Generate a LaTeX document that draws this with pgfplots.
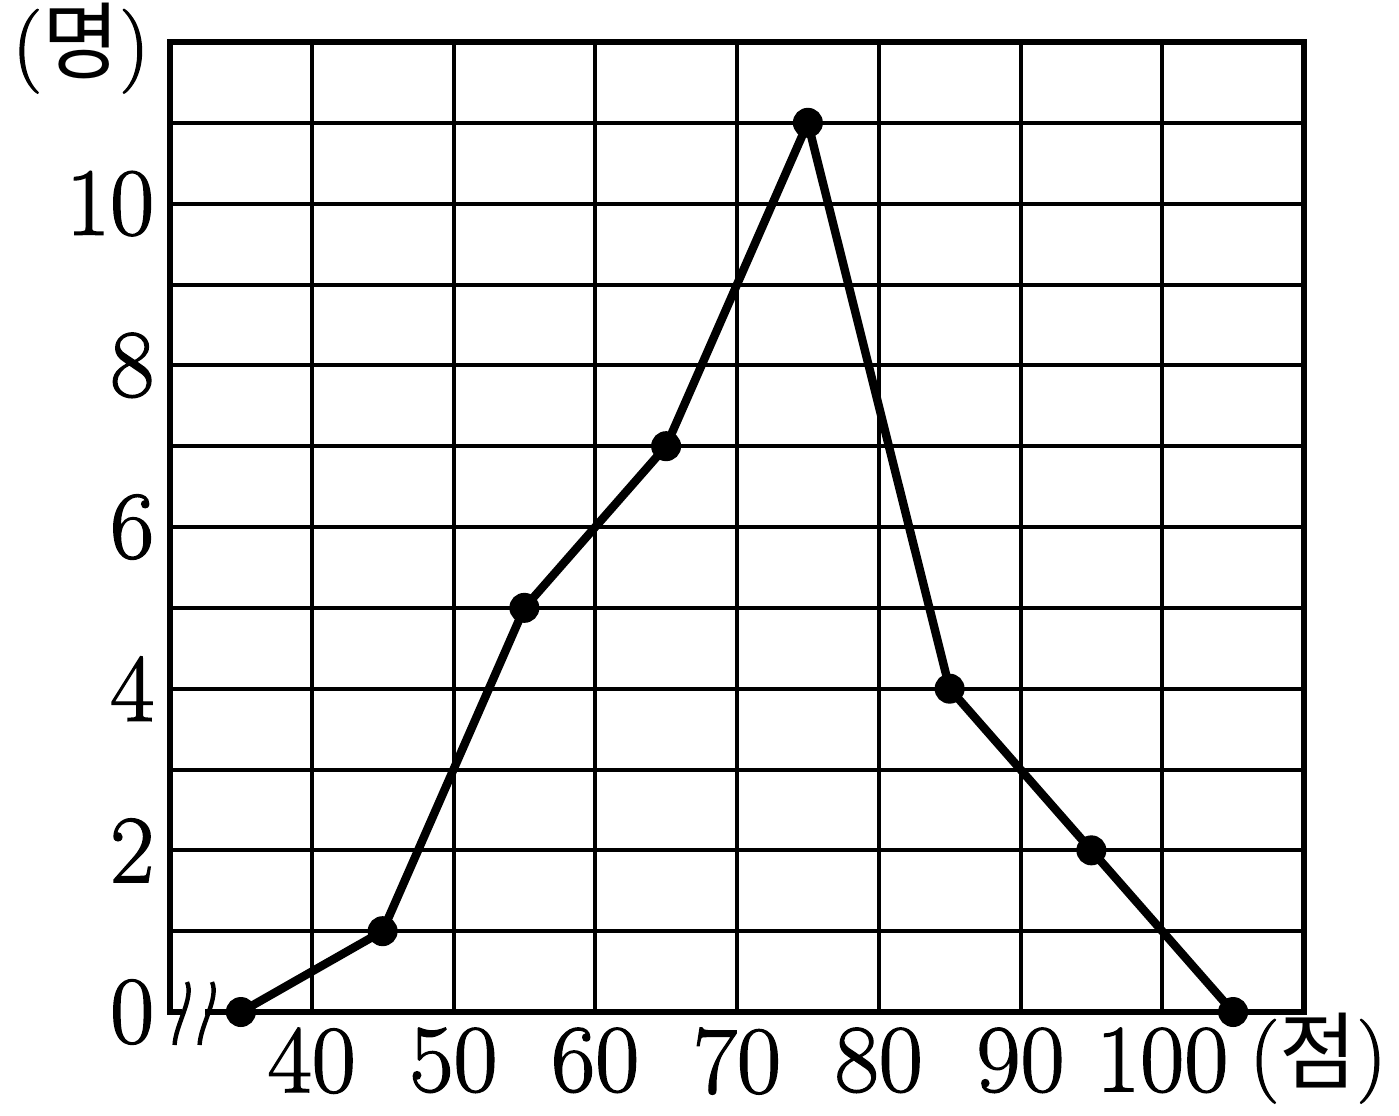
\documentclass[border=0pt]{standalone}
\usepackage{fontspec}
\usepackage{pgfplots}
\pgfplotsset{compat=1.18}
\newfontfamily\kr{Noto Sans CJK KR}
\newfontfamily\numfont[FakeBold=1.5]{Latin Modern Roman}
\begin{document}
\begin{tikzpicture}
\begin{axis}[
  name=ax,
  scale only axis,
  width=283.5pt, height=242.5pt,
  xmin=30, xmax=110, ymin=0, ymax=12,
  xtick={40,50,...,100},
  ytick={0,2,...,10},
  minor ytick={1,3,...,11},
  grid=both,
  major grid style={black, line width=1.0pt},
  minor grid style={black, line width=1.0pt},
  axis line style={black, line width=1.6pt},
  tick style={draw=none},
  clip=false,
  /pgf/number format/assume math mode=true,
  ticklabel style={font=\numfont\fontsize{24}{26}\selectfont, inner sep=0pt},
  xticklabel style={anchor=north, yshift=-3.75pt},
  yticklabel style={anchor=east, xshift=-3.75pt},
]
\addplot[black, line width=2.1pt, mark=*, mark size=3.5pt, mark options={solid, fill=black, line width=0.5pt}]
  coordinates {(35,0) (45,1) (55,5) (65,7) (75,11) (85,4) (95,2) (105,0)};
% axis break on the x axis
\fill[white] ([yshift=-1.2pt]axis cs:30.85,0) rectangle ([yshift=1.2pt]axis cs:32.5,0);
\draw[black, line width=1.1pt] ([xshift=4.25pt,yshift=7.5pt]rel axis cs:0,0) .. controls +(1.8pt,-4pt) and +(0.2pt,5pt) .. +(-3.1pt,-15.75pt);
\draw[black, line width=1.1pt] ([xshift=10.5pt,yshift=7.5pt]rel axis cs:0,0) .. controls +(1.8pt,-4pt) and +(0.2pt,5pt) .. +(-3.1pt,-15.75pt);
\node[anchor=east, inner sep=0pt, font=\numfont\fontsize{21}{24}\selectfont] at ([xshift=-5pt,yshift=-1.5pt]rel axis cs:0,1) {({\kr 명})};
\node[anchor=center, inner sep=0pt, font=\numfont\fontsize{21}{24}\selectfont] at ([xshift=3.5pt,yshift=-11.5pt]rel axis cs:1,0) {({\kr 점})};
\end{axis}
\pgfresetboundingbox
\path[use as bounding box] ([shift={(-42.5pt,-25.75pt)}]ax.south west) rectangle ([shift={(23.75pt,10.5pt)}]ax.north east);
\end{tikzpicture}
\end{document}
